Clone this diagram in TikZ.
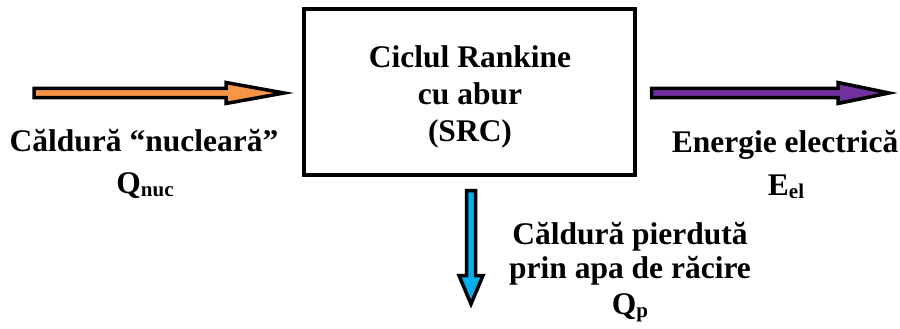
\documentclass[tikz,border=0pt]{standalone}
\usepackage{fontspec}
\setmainfont{Liberation Serif}
\definecolor{arrOrange}{RGB}{247,150,70}
\definecolor{arrPurple}{RGB}{112,48,160}
\definecolor{arrBlue}{RGB}{0,176,240}
\newcommand{\subtxt}[1]{\raisebox{-3pt}{\fontsize{21}{21}\selectfont #1}}
\tikzset{
  txt/.style={inner sep=0pt, anchor=base, font=\bfseries\fontsize{31.5}{36}\selectfont},
  blockarrow/.style={draw=black, line width=3.5pt, line join=miter, fill=#1},
  mainbox/.style={draw=black, line width=3.5pt, inner sep=0pt}
}
\begin{document}
\begin{tikzpicture}[x=1pt,y=-1pt]
\useasboundingbox (0,0) rectangle (900,329);
% box
\node[mainbox, minimum width=331pt, minimum height=166pt] (box) at (469.5,92) {};
\node[txt] (b1) at (470,67.5) {Ciclul Rankine};
\node[txt] (b2) at (470,104) {cu abur};
\node[txt] (b3) at (470,141) {(SRC)};
% orange input arrow
\draw[blockarrow=arrOrange] (34,88.4) -- (226,88.4) -- (226,82.5) -- (284,93) -- (226,103.5) -- (226,97.6) -- (34,97.6) -- cycle;
% purple output arrow
\draw[blockarrow=arrPurple] (651.5,88.4) -- (838,88.4) -- (838,82.5) -- (889,93) -- (838,103.5) -- (838,97.6) -- (651.5,97.6) -- cycle;
% blue down arrow
\draw[blockarrow=arrBlue] (466.5,190.5) -- (475.5,190.5) -- (475.5,275.5) -- (483,275.5) -- (471,304) -- (459,275.5) -- (466.5,275.5) -- cycle;
% labels
\node[txt] (l1) at (144,151) {Căldură “nucleară”};
\node[txt] (l2) at (145,193) {Q\subtxt{nuc}};
\node[txt] (r1) at (785,152) {Energie electrică};
\node[txt] (r2) at (786,195) {E\subtxt{el}};
\node[txt] (d1) at (630,244) {Căldură pierdută};
\node[txt] (d2) at (630,278) {prin apa de răcire};
\node[txt] (d3) at (630,314) {Q\subtxt{p}};
\end{tikzpicture}
\end{document}
